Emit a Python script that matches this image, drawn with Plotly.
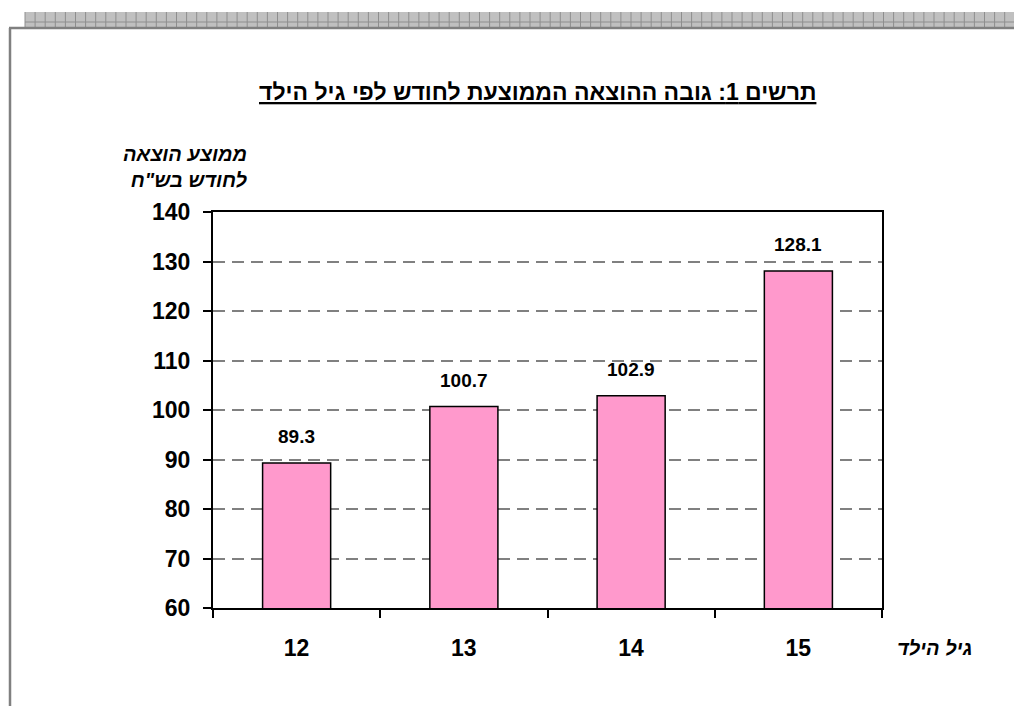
import plotly.graph_objects as go

# Data
ages = ["12", "13", "14", "15"]
avg_spend = [89.3, 100.7, 102.9, 128.1]
y_ticks = [60, 70, 80, 90, 100, 110, 120, 130, 140]

title_text = "תרשים 1: גובה ההוצאה הממוצעת לחודש לפי גיל הילד"
y_title = "ממוצע הוצאה<br>לחודש בש\"ח"
x_title = "גיל הילד"

W, H = 1014, 706
L, R, T, B = 213, 882, 212, 608
FONT = "Liberation Sans, Arial, sans-serif"


def px(x):
    return (x - L) / (R - L)


def py(y):
    return (B - y) / (B - T)


fig = go.Figure()
fig.add_trace(go.Bar(
    x=ages, y=avg_spend,
    marker=dict(color="#FF99CC", line=dict(color="black", width=1.5)),
    hoverinfo="skip",
))

annotations = []
for i, v in enumerate(avg_spend):
    annotations.append(dict(
        x=i, y=v, xref="x", yref="y", text=f"<b>{v:.1f}</b>", showarrow=False,
        yshift=26, yanchor="middle",
        font=dict(family=FONT, size=19, color="black"),
    ))

annotations.append(dict(
    x=px(537), y=py(92), xref="paper", yref="paper",
    text="<b>" + title_text + "</b>", showarrow=False,
    xanchor="center", yanchor="middle",
    font=dict(family=FONT, size=23, color="black", lineposition="under"),
))
annotations.append(dict(
    x=px(250), y=py(167.5), xref="paper", yref="paper",
    text="<b><i>" + y_title + "</i></b>", showarrow=False, align="right",
    xanchor="right", yanchor="middle",
    font=dict(family=FONT, size=20, color="black"),
))
annotations.append(dict(
    x=px(934), y=py(648), xref="paper", yref="paper",
    text="<b><i>" + x_title + "</i></b>", showarrow=False,
    xanchor="center", yanchor="middle",
    font=dict(family=FONT, size=20, color="black"),
))

# decorative page frame
shapes = []
shapes.append(dict(type="rect", xref="paper", yref="paper",
                   x0=px(25), x1=px(1014), y0=py(27), y1=py(12),
                   fillcolor="#c0c0c0", line=dict(width=0), layer="above"))
path = ""
xv = 25
while xv <= 1014:
    path += f"M{px(xv)},{py(12)}L{px(xv)},{py(27)}"
    xv += 10.1
path += f"M{px(25)},{py(22)}L{px(1014)},{py(22)}"
shapes.append(dict(type="path", xref="paper", yref="paper", path=path,
                   line=dict(color="#8e8e8e", width=1), layer="above"))
shapes.append(dict(type="line", xref="paper", yref="paper",
                   x0=px(9), x1=px(1014), y0=py(28), y1=py(28),
                   line=dict(color="#808080", width=2.5)))
shapes.append(dict(type="line", xref="paper", yref="paper",
                   x0=px(10), x1=px(10), y0=py(28), y1=py(706),
                   line=dict(color="#808080", width=2.5)))

fig.update_layout(
    width=W, height=H,
    margin=dict(l=L, r=W - R, t=T, b=H - B, autoexpand=False),
    paper_bgcolor="white", plot_bgcolor="white",
    bargap=0.593,
    showlegend=False,
    annotations=annotations,
    shapes=shapes,
    font=dict(family=FONT, color="black"),
)
fig.update_xaxes(
    type="category", range=[-0.5, 3.5],
    showline=True, linecolor="black", linewidth=2, mirror=True,
    ticks="outside", tickson="boundaries", ticklen=8, tickwidth=2, tickcolor="black",
    tickfont=dict(family=FONT, size=23, color="black", weight="bold"),
    ticklabelstandoff=18,
    showgrid=False,
)
fig.update_yaxes(
    range=[60, 140], tickvals=y_ticks, showline=True, linecolor="black", linewidth=2,
    mirror=True, ticks="outside", ticklen=8, tickwidth=2, tickcolor="black",
    tickfont=dict(family=FONT, size=23, color="black", weight="bold"),
    ticklabelstandoff=8,
    showgrid=True, gridcolor="#808080", gridwidth=2, griddash="12px,7px",
    zeroline=False,
)

fig.write_html(
    "out.html",
    config={"displayModeBar": False},
    post_script="document.body.style.margin='0';document.body.style.overflow='hidden';",
)
